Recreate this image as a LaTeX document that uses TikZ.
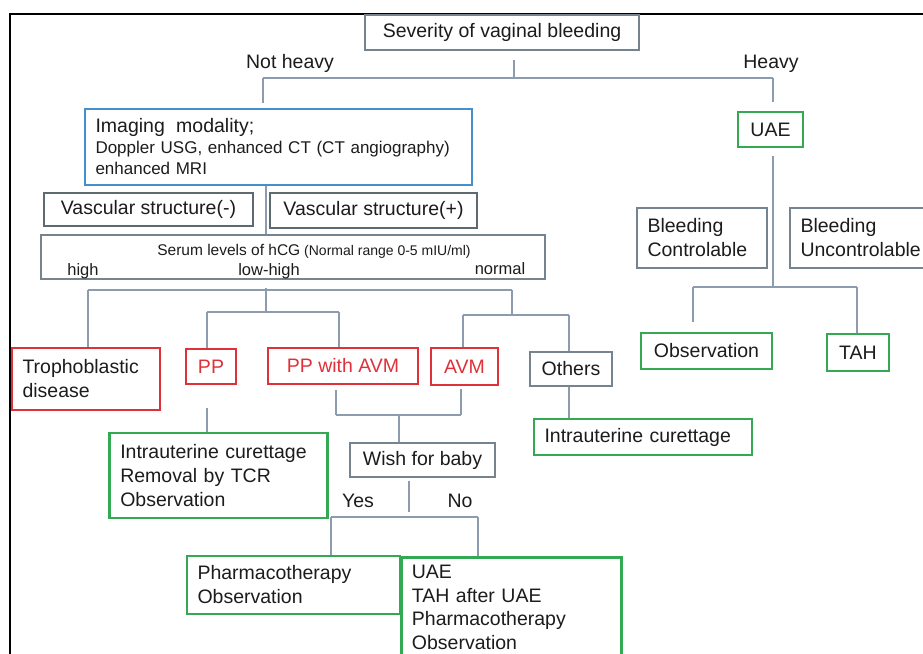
\documentclass[tikz,border=0pt]{standalone}
\usepackage{fontspec}
\setmainfont{Liberation Sans}
\definecolor{conncol}{HTML}{8C9CAE}
\definecolor{graycol}{HTML}{76848F}
\definecolor{greencol}{HTML}{35A853}
\definecolor{redcol}{HTML}{DE313A}
\definecolor{bluecol}{HTML}{4590CC}
\definecolor{txt}{HTML}{1C1C1C}
\newcommand\fsmain{\fontsize{19.5}{24}\selectfont}
\newcommand\fssmall{\fontsize{17}{21}\selectfont}
\newcommand\fslab{\fontsize{16.5}{20}\selectfont}
\begin{document}
\begin{tikzpicture}[x=1pt,y=-1pt,
  every node/.style={font=\fsmain, text=txt},
  box/.style={draw=graycol, line width=1.4pt, inner xsep=10.5pt, inner ysep=0pt, anchor=center},
  gbox/.style={box, draw=greencol, line width=2.8pt},
  rbox/.style={box, draw=redcol, line width=2.8pt},
  bbox/.style={box, draw=bluecol, line width=2pt},
  conn/.style={draw=conncol, line width=1.3pt},
  lbl/.style={inner sep=0pt, anchor=base}
]
\useasboundingbox (0,0) rectangle (923,653);
\clip (0,0) rectangle (923,653);
\fill[white] (0,0) rectangle (923,653);
\draw[line width=2.2pt, black] (10,14) rectangle (960,700);

% boxes
\node[box, minimum width=274pt, minimum height=35pt] (sev) at (502,32.5) {Severity of vaginal bleeding};
\node[bbox, text width=366pt, align=left, minimum height=76pt, font=\fssmall] (img) at (278.5,147)
  {{\fontsize{19.5}{21}\selectfont Imaging\ \ modality;}\\Doppler USG, enhanced CT (CT angiography)\\enhanced MRI};
\node[gbox, minimum width=65pt, minimum height=35pt] (uae) at (770.5,129.5) {UAE};
\node[box, text width=109pt, align=left, minimum height=60pt] (bc) at (702,238) {Bleeding\\Controlable};
\node[box, text width=149pt, align=left, minimum height=60pt] (bu) at (875,238) {Bleeding\\Uncontrolable};
\node[gbox, minimum width=131pt, minimum height=36pt] (obs) at (706.5,351) {Observation};
\node[gbox, minimum width=62pt, minimum height=37pt] (tah) at (858,352.5) {TAH};

\node[box, draw=graycol!80!black, minimum width=209pt, minimum height=33pt] (vminus) at (148.5,209.5) {Vascular structure(-)};
\node[box, draw=graycol!80!black, minimum width=207pt, minimum height=35pt] (vplus) at (373.5,210.5) {Vascular structure(+)};
\node[box, minimum width=504pt, minimum height=44pt] (serum) at (293,257) {};
\node[lbl] (serumt) at (314,255) {{\fontsize{15.5}{18}\selectfont Serum levels of hCG}{\fontsize{14}{18}\selectfont{} (Normal range 0-5 mIU/ml)}};
\node[lbl, font=\fslab] (lhigh) at (83,275) {high};
\node[lbl, font=\fslab] (llow) at (269,275) {low-high};
\node[lbl, font=\fslab] (lnorm) at (500,274) {normal};

\node[rbox, text width=127pt, align=left, minimum height=62pt] (tro) at (86,379) {Trophoblastic\\disease};
\node[rbox, text=redcol, minimum width=50pt, minimum height=35pt, inner xsep=0pt] (pp) at (211,366.5) {PP};
\node[rbox, text=redcol, minimum width=150pt, minimum height=36pt, inner xsep=0pt] (ppavm) at (343,366) {PP with AVM};
\node[rbox, text=redcol, minimum width=67pt, minimum height=37pt, inner xsep=0pt] (avm) at (464.5,366.5) {AVM};
\node[box, minimum width=82pt, minimum height=34pt, inner xsep=0pt] (oth) at (571,369) {Others};

\node[gbox, text width=196.5pt, align=left, minimum height=85pt] (iu1) at (218.5,475.5) {Intrauterine curettage\\Removal by TCR\\Observation};
\node[box, minimum width=145pt, minimum height=34pt, inner xsep=0pt] (wish) at (422.5,460) {Wish for baby};
\node[gbox, minimum width=218pt, minimum height=36pt, text width=197pt, align=left] (iu2) at (643,437) {Intrauterine curettage};
\node[gbox, text width=192pt, align=left, minimum height=58pt] (ph) at (293.5,585) {Pharmacotherapy\\Observation};
\node[gbox, text width=199pt, align=left, anchor=north west, inner ysep=8pt, font=\fontsize{19.5}{23.5}\selectfont] (uae2) at (400,556)
  {UAE\\TAH after UAE\\Pharmacotherapy\\Observation\\[2pt]\mbox{}};

% labels
\node[lbl] (nh) at (290,68) {Not heavy};
\node[lbl] (hv) at (771,68) {Heavy};
\node[lbl] (yes) at (358,507) {Yes};
\node[lbl] (no) at (460,507) {No};

% connectors: top
\coordinate (j0) at (514,78);
\coordinate (jL) at (263,78);
\coordinate (jR) at (773,78);
\draw[conn, shorten <=9pt] (sev.south -| j0) -- (j0);
\draw[conn] (jL) -- (jR);
\draw[conn, shorten >=5pt] (jL) -- (img.north -| jL);
\draw[conn, shorten >=9pt] (jR) -- (uae.north -| jR);

% imaging to serum
\coordinate (xa) at (266,0);
\draw[conn] (img.south -| xa) -- (serum.north -| xa);

% serum branches
\coordinate (s1) at (266,312);
\coordinate (bL) at (88,290);
\coordinate (bR) at (512,290);
\draw[conn] (bL) -- (bR);
\draw[conn, shorten <=8pt] (serum.south -| s1) -- (s1);
\draw[conn] (bL) -- (tro.north -| bL);
\coordinate (p1) at (207,312);
\coordinate (p2) at (339,312);
\draw[conn] (p1) -- (p2);
\draw[conn] (p1) -- (pp.north -| p1);
\draw[conn] (p2) -- (ppavm.north -| p2);
\coordinate (r1) at (512,315);
\coordinate (a1) at (463,315);
\coordinate (o1) at (569,315);
\draw[conn] (bR) -- (r1);
\draw[conn] (a1) -- (o1);
\draw[conn] (a1) -- (avm.north -| a1);
\draw[conn] (o1) -- (oth.north -| o1);

% PP down
\draw[conn, shorten <=23pt] (pp.south -| p1) -- (iu1.north -| p1);

% PP with AVM / AVM join
\coordinate (w1) at (336,415);
\coordinate (w2) at (461,415);
\coordinate (w0) at (399,415);
\draw[conn] (w1) -- (w2);
\draw[conn, shorten <=5pt] (ppavm.south -| w1) -- (w1);
\draw[conn, shorten <=3pt] (avm.south -| w2) -- (w2);
\draw[conn] (w0) -- (wish.north -| w0);

% wish for baby
\coordinate (y0) at (409,517);
\coordinate (yL) at (331,517);
\coordinate (yR) at (478,517);
\draw[conn, shorten <=3pt, shorten >=5pt] (wish.south -| y0) -- (y0);
\draw[conn] (yL) -- (yR);
\draw[conn] (yL) -- (ph.north -| yL);
\draw[conn] (yR) -- (uae2.north -| yR);

% others
\coordinate (xo) at (569,0);
\draw[conn] (oth.south -| xo) -- (iu2.north -| xo);

% UAE branch
\coordinate (u0) at (773,287);
\coordinate (uL) at (693,287);
\coordinate (uR) at (857,287);
\draw[conn, shorten <=8pt] (uae.south -| u0) -- (u0);
\draw[conn] (uL) -- (uR);
\draw[conn, shorten >=10pt] (uL) -- (obs.north -| uL);
\draw[conn] (uR) -- (tah.north -| uR);
\end{tikzpicture}
\end{document}
